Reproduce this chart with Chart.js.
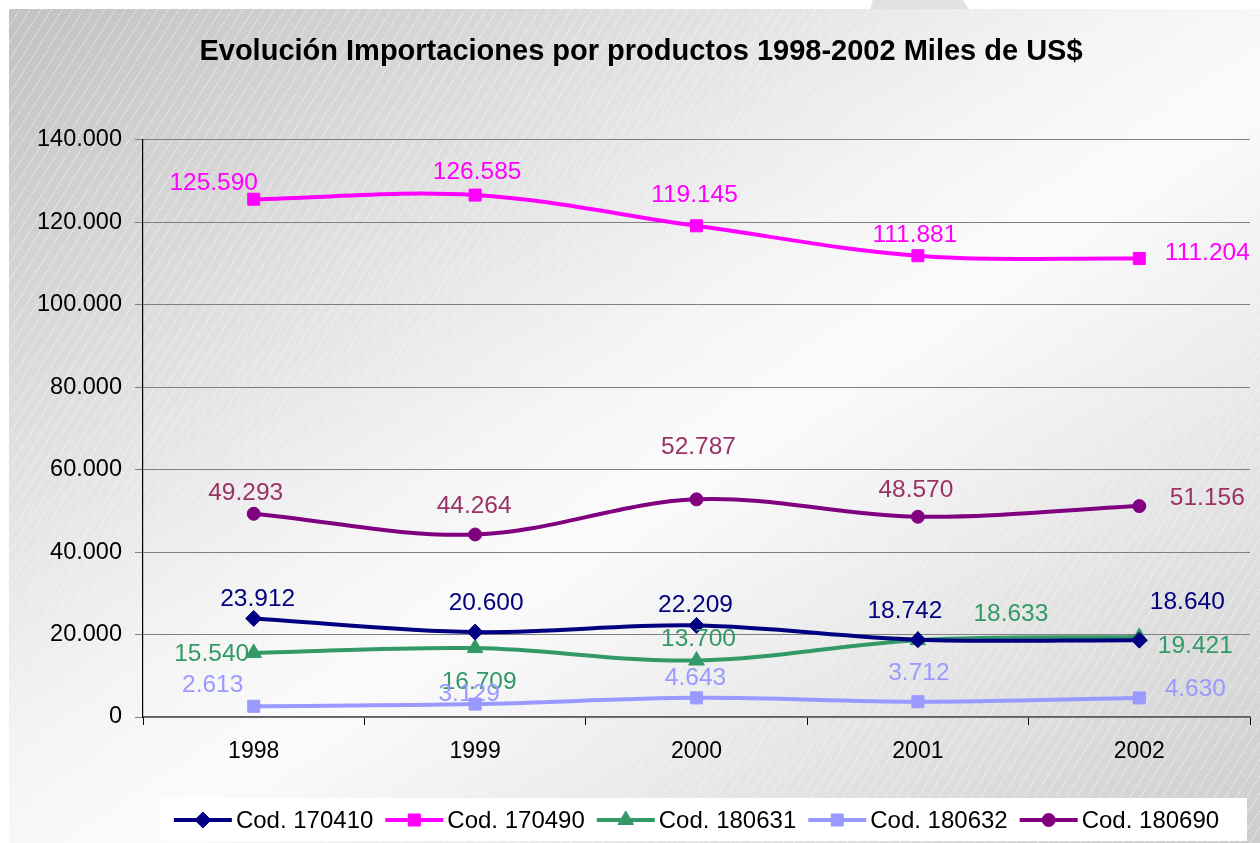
<!DOCTYPE html>
<html>
<head>
<meta charset="utf-8">
<title>Evolución Importaciones por productos</title>
<script src="https://cdn.jsdelivr.net/npm/chart.js@4.4.1/dist/chart.umd.min.js"></script>
<style>
   html, body { margin: 0; padding: 0; background: #fff; }
   body { width: 1260px; height: 843px; position: relative; overflow: hidden; }
   .bg {
      position: absolute; left: 9px; top: 9px; right: 0; bottom: 0;
      background:
         repeating-linear-gradient(-58deg, rgba(255,255,255,0) 0px, rgba(255,255,255,0) 8px, rgba(255,255,255,0.35) 8px, rgba(255,255,255,0.35) 9px),
         linear-gradient(to bottom right, #c2c2c2 0%, #f4f4f4 45%, #fbfbfb 55%, #cdcdcd 100%);
   }
   .notch {
      position: absolute; left: 870px; top: 0; width: 99px; height: 9px;
      background: #e2e2e2;
      clip-path: polygon(3% 0, 94% 0, 100% 100%, 0 100%);
   }
   .wrap { position: absolute; left: 0; top: 0; width: 1260px; height: 843px; }
</style>
</head>
<body>
<div class="bg"></div>
<div class="notch"></div>
<div class="wrap"><canvas id="graph1"></canvas></div>
<script>
   // data (miles de US$)
   const years = ['1998', '1999', '2000', '2001', '2002'];
   const cod170410 = [23912, 20600, 22209, 18742, 18640];
   const cod170490 = [125590, 126585, 119145, 111881, 111204];
   const cod180631 = [15540, 16709, 13700, 18633, 19421];
   const cod180632 = [2613, 3129, 4643, 3712, 4630];
   const cod180690 = [49293, 44264, 52787, 48570, 51156];
   const yTicks = [0, 20000, 40000, 60000, 80000, 100000, 120000, 140000];

   const FONT = "'Liberation Sans', Arial, sans-serif";

   function fmt(v) {
      return String(v).replace(/\B(?=(\d{3})+(?!\d))/g, '.');
   }

   // label offsets from each point (style only)
   const labelOffsets = {
      'Cod. 170410': [[4, -19], [11, -29], [-1, -20], [-13, -28], [48, -38]],
      'Cod. 170490': [[-40, -16], [2, -23], [-2, -31], [-3, -20], [68, -5]],
      'Cod. 180631': [[-42, 1], [4, 34], [2, -21], [93, -26], [56, 9]],
      'Cod. 180632': [[-41, -21], [-6, -10], [-1, -20], [1, -28], [56, -9]],
      'Cod. 180690': [[-8, -21], [-1, -28], [2, -52], [-2, -27], [68, -8]]
   };

   function series(label, data, color, labelColor, style, radius) {
      return {
         label: label,
         data: data,
         borderColor: color,
         backgroundColor: color,
         labelColor: labelColor,
         borderWidth: 4,
         pointStyle: style,
         pointRadius: radius,
         pointHoverRadius: radius,
         pointBorderWidth: 1,
         tension: 0.35
      };
   }

   function drawMarker(ctx, style, radius, x, y) {
      if (Chart.helpers && Chart.helpers.drawPoint) {
         Chart.helpers.drawPoint(ctx, { pointStyle: style, radius: radius, rotation: 0, borderWidth: 1 }, x, y);
         return;
      }
      ctx.beginPath();
      ctx.arc(x, y, radius, 0, Math.PI * 2);
      ctx.fill();
   }

   const dataLabels = {
      id: 'dataLabels',
      afterDatasetsDraw(chart) {
         const ctx = chart.ctx;
         ctx.save();
         ctx.font = '24.5px ' + FONT;
         ctx.textAlign = 'center';
         ctx.textBaseline = 'middle';
         chart.data.datasets.forEach((ds, i) => {
            const meta = chart.getDatasetMeta(i);
            const offs = labelOffsets[ds.label];
            ctx.fillStyle = ds.labelColor;
            meta.data.forEach((pt, j) => {
               ctx.fillText(fmt(ds.data[j]), pt.x + offs[j][0], pt.y + offs[j][1]);
            });
         });
         ctx.restore();
      }
   };

   const bottomLegend = {
      id: 'bottomLegend',
      afterDraw(chart) {
         const ctx = chart.ctx;
         const area = chart.chartArea;
         ctx.save();
         ctx.fillStyle = '#ffffff';
         ctx.fillRect(160, 798, 1087, 43);
         ctx.font = '24px ' + FONT;
         ctx.textBaseline = 'middle';
         const lineLen = 58, gapText = 4, gapItem = 12;
         const items = chart.data.datasets.map(ds => ({ ds: ds, w: ctx.measureText(ds.label).width }));
         let total = items.reduce((s, it) => s + lineLen + gapText + it.w + gapItem, 0) - gapItem;
         let x = (area.left + area.right) / 2 - total / 2;
         const y = 820;
         items.forEach(it => {
            ctx.strokeStyle = it.ds.borderColor;
            ctx.fillStyle = it.ds.borderColor;
            ctx.lineWidth = 4;
            ctx.beginPath();
            ctx.moveTo(x, y);
            ctx.lineTo(x + lineLen, y);
            ctx.stroke();
            ctx.lineWidth = 1;
            drawMarker(ctx, it.ds.pointStyle, it.ds.pointRadius, x + lineLen / 2, y);
            ctx.fillStyle = '#000';
            ctx.fillText(it.ds.label, x + lineLen + gapText, y + 1);
            x += lineLen + gapText + it.w + gapItem;
         });
         ctx.restore();
      }
   };

   const graph1 = document.getElementById('graph1');
   new Chart(graph1, {
      type: 'line',
      data: {
         labels: years,
         datasets: [
            series('Cod. 170410', cod170410, '#000080', '#000080', 'rectRot', 8),
            series('Cod. 170490', cod170490, '#ff00ff', '#ff00ff', 'rect', 8.5),
            series('Cod. 180631', cod180631, '#339966', '#339966', 'triangle', 9),
            series('Cod. 180632', cod180632, '#9999ff', '#9999ff', 'rect', 8.5),
            series('Cod. 180690', cod180690, '#800080', '#993366', 'circle', 6.5)
         ]
      },
      options: {
         responsive: true,
         maintainAspectRatio: false,
         animation: false,
         layout: {
            padding: { left: 29, right: 7, top: 0, bottom: 66 }
         },
         scales: {
            x: {
               offset: true,
               afterFit: s => { s.height = 60; },
               grid: {
                  offset: true,
                  drawOnChartArea: false,
                  tickLength: 8,
                  color: '#000'
               },
               border: { color: '#606060', width: 1.5 },
               ticks: {
                  color: '#000',
                  padding: 13,
                  font: { family: FONT, size: 23 }
               }
            },
            y: {
               min: 0,
               max: 140000,
               afterFit: s => { s.width = 114; },
               afterBuildTicks: s => { s.ticks = yTicks.map(v => ({ value: v })); },
               grid: {
                  color: '#7f7f7f',
                  tickLength: 8,
                  lineWidth: 1
               },
               border: { color: '#000', width: 1.2 },
               ticks: {
                  color: '#000',
                  padding: 13,
                  font: { family: FONT, size: 23.5 },
                  callback: v => v === 0 ? '0' : fmt(v)
               }
            }
         },
         plugins: {
            title: {
               display: true,
               text: 'Evolución Importaciones por productos 1998-2002 Miles de US$',
               color: '#000',
               font: { family: FONT, size: 29, weight: 'bold' },
               padding: { top: 35, bottom: 70 }
            },
            legend: { display: false },
            tooltip: { enabled: false }
         }
      },
      plugins: [dataLabels, bottomLegend]
   });
</script>
</body>
</html>
